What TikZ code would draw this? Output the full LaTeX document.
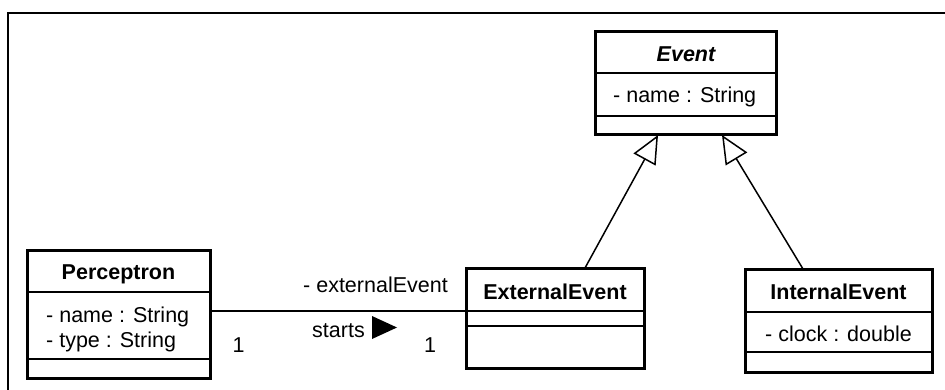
\documentclass[tikz,border=0pt]{standalone}
\usepackage{fontspec}
\setmainfont{Liberation Sans}
\usetikzlibrary{arrows.meta}
\begin{document}
\begin{tikzpicture}[x=1pt,y=-1pt,
  classbox/.style={draw, line width=3pt, inner sep=0pt, outer sep=0pt},
  divider/.style={line width=1.5pt},
  title/.style={font=\fontsize{21.5}{25}\selectfont\bfseries, inner sep=0pt, anchor=base},
  attr/.style={font=\fontsize{21.5}{25}\selectfont, inner sep=0pt, anchor=base west},
  lbl/.style={font=\fontsize{21.5}{25}\selectfont, inner sep=0pt},
  gen/.style={line width=1.5pt, -{Triangle[open, length=28pt, width=25pt, line width=1.5pt]}},
  assoc/.style={line width=1.5pt},
  frame/.style={line width=2.5pt}
]
\useasboundingbox (0,0) rectangle (945,390);
% outer frame (cropped)
\draw[frame] (8,392) -- (8,13) -- (947,13);

% Event
\node[classbox, minimum width=181pt, minimum height=103pt] (event) at (685.5,83.5) {};
\draw[divider] (595,73) -- (776,73);
\draw[divider] (595,116) -- (776,116);
\node[title, font=\fontsize{21.5}{25}\selectfont\bfseries\itshape] (eventT) at (686,62) {Event};
\node[attr] (eventA) at (613,103) {- name : String};

% Perceptron
\node[classbox, minimum width=183pt, minimum height=128pt] (perc) at (118.5,314) {};
\draw[divider] (27,292) -- (210,292);
\draw[divider] (27,359) -- (210,359);
\node[title] (percT) at (118.5,279) {Perceptron};
\node[attr] (percA1) at (46,322) {- name : String};
\node[attr] (percA2) at (46,347) {- type : String};

% ExternalEvent
\node[classbox, minimum width=178pt, minimum height=100pt] (ext) at (555,318) {};
\draw[divider] (466,311) -- (644,311);
\draw[divider] (466,326) -- (644,326);
\node[title] (extT) at (555,299) {ExternalEvent};

% InternalEvent
\node[classbox, minimum width=187pt, minimum height=103pt] (int) at (838.5,320.5) {};
\draw[divider] (745,312) -- (932,312);
\draw[divider] (745,352) -- (932,352);
\node[title] (intT) at (838.5,299) {InternalEvent};
\node[attr] (intA) at (765,341) {- clock : double};

% association
\draw[assoc] ([yshift=3pt]perc.east) -- ([yshift=3pt]perc.east -| ext.west);
\node[lbl, anchor=base east] (role) at (448,292) {- externalEvent};
\node[lbl, anchor=base west] (starts) at (312,337) {starts};
\fill (372,316) -- (397,327.5) -- (372,339) -- cycle;
\node[lbl, anchor=base] (m1) at (238.5,352) {1};
\node[lbl, anchor=base] (m2) at (430,352) {1};

% generalizations
\draw[gen] ([xshift=30pt]ext.north) -- ([xshift=-27.5pt]event.south);
\draw[gen] ([xshift=-35.5pt]int.north) -- ([xshift=36.5pt]event.south);
\end{tikzpicture}
\end{document}
